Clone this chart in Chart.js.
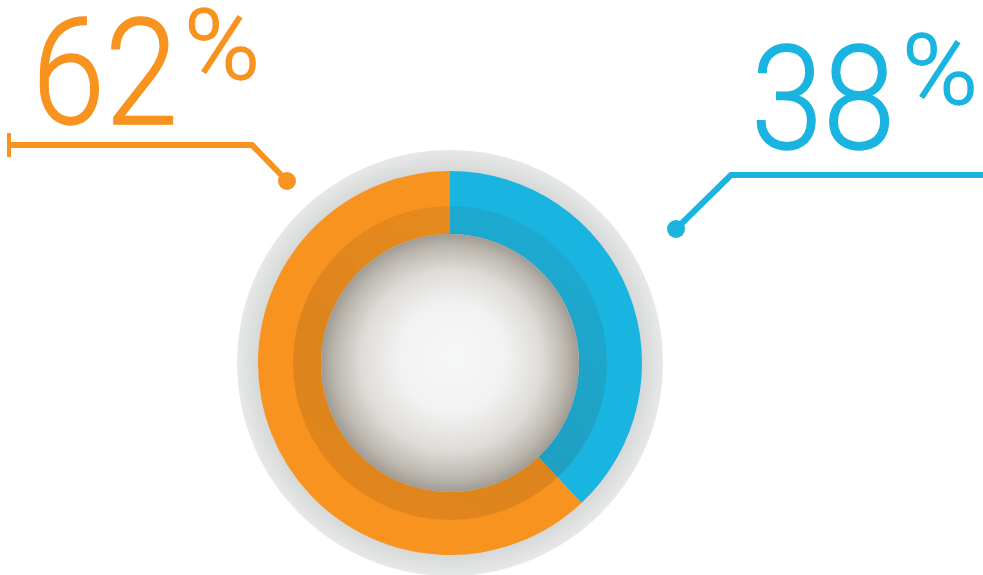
<!DOCTYPE html>
<html>
<head>
<meta charset="utf-8">
<script src="https://cdn.jsdelivr.net/npm/chart.js@4/dist/chart.umd.min.js"></script>
<style>
  html, body { margin: 0; padding: 0; background: #fff; }
  #wrap { position: relative; width: 983px; height: 575px; overflow: hidden; }
  #ring { position: absolute; left: 0; top: 0; }
  .num, .pct {
    position: absolute;
    font-family: Roboto, 'Open Sans', sans-serif;
    font-weight: 300;
    line-height: 1;
    white-space: nowrap;
    transform-origin: left top;
    -webkit-text-stroke-width: 1.4px;
  }
</style>
</head>
<body>
<div id="wrap">
  <canvas id="ring" width="983" height="575"></canvas>
</div>
<script>
// slices, clockwise from 12 o'clock
const sliceNames = ['Blue share', 'Orange share'];
const shareValues = [38, 62];
const sliceColors = ['#1ab4e0', '#f7931e'];

// big number labels, one per slice
const labelSpots = [
  { num: { left: 751, top: 28, size: 144, sx: 0.9 }, pct: { left: 902, top: 22, size: 98, sx: 1.05 } },
  { num: { left: 32, top: 0, size: 148, sx: 0.89 }, pct: { left: 184, top: -3, size: 98, sx: 1.05 } }
];

const cx = 450, cy = 363;
const outerR = 192, innerR = 129, bandR = 157, plateR = 213;

// grey plate under the ring, shading band and glossy centre on top
const decor = {
  id: 'decor',
  beforeDatasetsDraw(chart) {
    const ctx = chart.ctx;
    ctx.save();
    const g = ctx.createRadialGradient(cx, cy, outerR - 4, cx, cy, plateR);
    g.addColorStop(0, '#d4d5d5');
    g.addColorStop(1, '#e7e8e8');
    ctx.fillStyle = g;
    ctx.beginPath();
    ctx.arc(cx, cy, plateR, 0, Math.PI * 2);
    ctx.fill();
    ctx.restore();
  },
  afterDatasetsDraw(chart) {
    const ctx = chart.ctx;
    ctx.save();

    // darker inner band
    const sh = ctx.createLinearGradient(cx + 80, cy - bandR, cx - 80, cy + bandR);
    sh.addColorStop(0, 'rgba(60,40,20,0.07)');
    sh.addColorStop(0.6, 'rgba(60,40,20,0.14)');
    sh.addColorStop(1, 'rgba(60,40,20,0.12)');
    ctx.fillStyle = sh;
    ctx.beginPath();
    ctx.arc(cx, cy, bandR, 0, Math.PI * 2);
    ctx.arc(cx, cy, innerR, 0, Math.PI * 2, true);
    ctx.fill();

    // centre disc
    const c = ctx.createRadialGradient(cx + 4, cy - 8, 0, cx, cy, innerR);
    c.addColorStop(0, '#f6f7f7');
    c.addColorStop(0.42, '#f2f2f2');
    c.addColorStop(0.7, '#dedcd8');
    c.addColorStop(0.9, '#bbb7af');
    c.addColorStop(1, '#a09c93');
    ctx.fillStyle = c;
    ctx.beginPath();
    ctx.arc(cx, cy, innerR, 0, Math.PI * 2);
    ctx.fill();

    // leader lines
    ctx.lineWidth = 6;
    ctx.lineJoin = 'miter';
    ctx.lineCap = 'butt';

    ctx.strokeStyle = sliceColors[1];
    ctx.fillStyle = sliceColors[1];
    ctx.beginPath();
    ctx.moveTo(9, 145);
    ctx.lineTo(252, 145);
    ctx.lineTo(287, 181);
    ctx.stroke();
    ctx.fillRect(7, 133, 4, 24);
    ctx.beginPath();
    ctx.arc(287, 181, 9, 0, Math.PI * 2);
    ctx.fill();

    ctx.strokeStyle = sliceColors[0];
    ctx.fillStyle = sliceColors[0];
    ctx.beginPath();
    ctx.moveTo(676, 229);
    ctx.lineTo(731, 175);
    ctx.lineTo(990, 175);
    ctx.stroke();
    ctx.beginPath();
    ctx.arc(676, 229, 9, 0, Math.PI * 2);
    ctx.fill();

    ctx.restore();
  }
};

new Chart(document.getElementById('ring'), {
  type: 'doughnut',
  data: {
    labels: sliceNames,
    datasets: [{
      data: shareValues,
      backgroundColor: sliceColors,
      borderWidth: 0
    }]
  },
  options: {
    responsive: false,
    animation: false,
    cutout: innerR,
    rotation: 0,
    layout: {
      padding: { left: cx - outerR, right: 983 - cx - outerR, top: cy - outerR, bottom: 575 - cy - outerR }
    },
    plugins: {
      legend: { display: false },
      tooltip: { enabled: false }
    },
    events: []
  },
  plugins: [decor]
});

// number labels
const wrap = document.getElementById('wrap');
shareValues.forEach((v, i) => {
  const spot = labelSpots[i];
  const n = document.createElement('div');
  n.className = 'num';
  n.textContent = String(v);
  n.style.left = spot.num.left + 'px';
  n.style.top = spot.num.top + 'px';
  n.style.fontSize = spot.num.size + 'px';
  n.style.color = sliceColors[i];
  n.style.webkitTextStrokeColor = sliceColors[i];
  n.style.transform = 'scaleX(' + spot.num.sx + ')';
  wrap.appendChild(n);

  const p = document.createElement('div');
  p.className = 'pct';
  p.textContent = '%';
  p.style.left = spot.pct.left + 'px';
  p.style.top = spot.pct.top + 'px';
  p.style.fontSize = spot.pct.size + 'px';
  p.style.color = sliceColors[i];
  p.style.webkitTextStrokeColor = sliceColors[i];
  p.style.transform = 'scaleX(' + spot.pct.sx + ')';
  wrap.appendChild(p);
});
</script>
</body>
</html>
